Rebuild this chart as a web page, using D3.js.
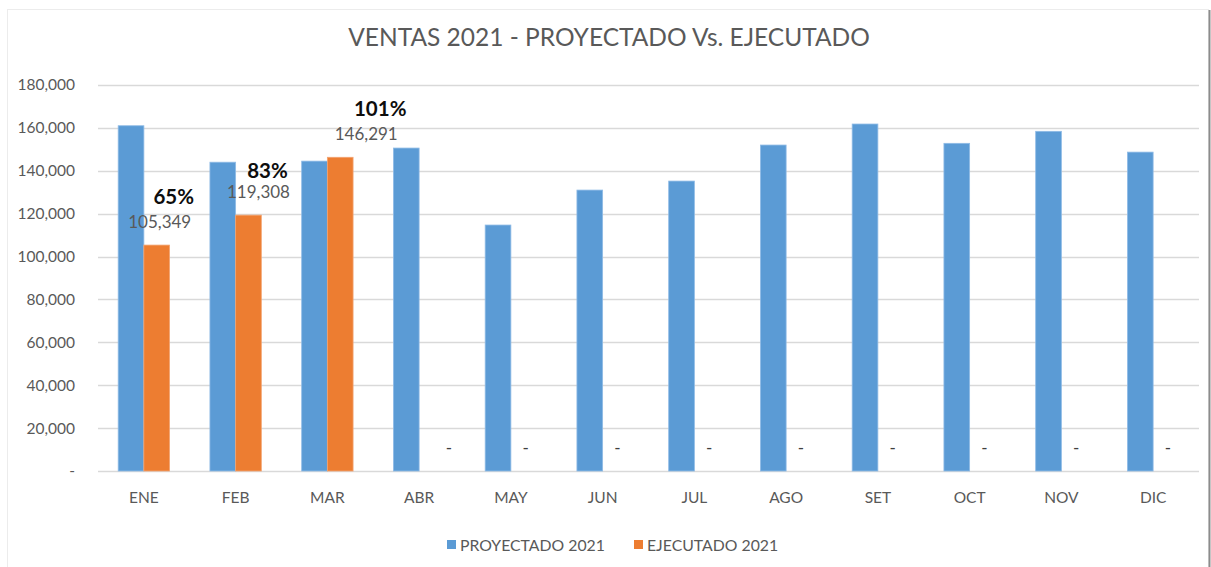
<!DOCTYPE html>
<html>
<head>
<meta charset="utf-8">
<script src="https://cdn.jsdelivr.net/npm/d3@7/dist/d3.min.js"></script>
<style>
  body { margin: 0; background: #fff; }
  svg { display: block; font-family: Lato, "Open Sans", sans-serif; }
</style>
</head>
<body>
<script>
// Data
var months = ["ENE","FEB","MAR","ABR","MAY","JUN","JUL","AGO","SET","OCT","NOV","DIC"];
var proyectado = [161000,144000,144500,150600,114700,131000,135200,152000,161800,152800,158400,148700];
var ejecutado = [105349,119308,146291,0,0,0,0,0,0,0,0,0];
var series = ["PROYECTADO 2021","EJECUTADO 2021"];
var yTicks = [0,20000,40000,60000,80000,100000,120000,140000,160000,180000];

// manual nudges of the data labels (as they were dragged in the sheet)
var labelShift = [3,10,26,15,0,0,0,0,0,0,0,0];
var pctDx = [14,9,14];
var pctDy = [-41,-37,-41];

var W = 1211, H = 567;
var margin = {top: 85, right: 12, bottom: 96, left: 98};
var width = W - margin.left - margin.right;
var height = H - margin.top - margin.bottom;
var colors = ["#5b9bd5","#ed7d31"];

var svg = d3.select("body").append("svg")
    .attr("width", W)
    .attr("height", H);

// chart frame
svg.append("rect")
    .attr("x", 7.5).attr("y", 9.5)
    .attr("width", 1201).attr("height", 570)
    .attr("fill", "#fff")
    .attr("stroke", "#ececec");
svg.append("line")
    .attr("x1", 1209.5).attr("x2", 1209.5)
    .attr("y1", 10).attr("y2", H)
    .attr("stroke", "#8c8c8c").attr("stroke-width", 2);

// title
svg.append("text")
    .attr("x", 609).attr("y", 46)
    .attr("text-anchor", "middle")
    .attr("fill", "#595959")
    .style("font-size", "24.5px")
    .text("VENTAS 2021 - PROYECTADO Vs. EJECUTADO");

var g = svg.append("g")
    .attr("transform", "translate(" + margin.left + "," + margin.top + ")");

var x = d3.scaleBand()
    .domain(months)
    .range([0, width])
    .paddingInner(0.44)
    .paddingOuter(0.22);

var xSub = d3.scaleBand()
    .domain([0, 1])
    .range([0, x.bandwidth()]);

var y = d3.scaleLinear()
    .domain([0, 180000])
    .range([height, 0]);

// gridlines
g.selectAll(".grid")
    .data(yTicks)
  .enter().append("line")
    .attr("class", "grid")
    .attr("x1", 0).attr("x2", width)
    .attr("y1", function(d) { return Math.round(y(d)) + 0.5; })
    .attr("y2", function(d) { return Math.round(y(d)) + 0.5; })
    .attr("stroke", "#d9d9d9")
    .attr("stroke-width", 1.3);

// y axis labels
var fmt = d3.format(",.0f");
var yAxis = g.append("g")
    .call(d3.axisLeft(y).tickValues(yTicks)
        .tickFormat(function(d) { return d === 0 ? "-" : fmt(d); })
        .tickSize(0).tickPadding(23));
yAxis.select(".domain").remove();
yAxis.selectAll("text")
    .attr("fill", "#595959")
    .style("font-size", "15.5px")
    .style("font-family", "Lato, sans-serif");

// x axis labels
var xAxis = g.append("g")
    .attr("transform", "translate(0," + height + ")")
    .call(d3.axisBottom(x).tickSize(0).tickPadding(21));
xAxis.select(".domain").remove();
xAxis.selectAll("text")
    .attr("fill", "#595959")
    .style("font-size", "15.5px")
    .style("font-family", "Lato, sans-serif");

// bars
var rows = months.map(function(m, i) {
    return {month: m, i: i, vals: [proyectado[i], ejecutado[i]]};
});

var groups = g.selectAll(".month")
    .data(rows)
  .enter().append("g")
    .attr("class", "month")
    .attr("transform", function(d) { return "translate(" + x(d.month) + ",0)"; });

groups.selectAll("rect")
    .data(function(d) { return d.vals.map(function(v, k) { return {k: k, v: v}; }); })
  .enter().append("rect")
    .filter(function(d) { return d.v > 0; })
    .attr("x", function(d) { return xSub(d.k); })
    .attr("y", function(d) { return y(d.v); })
    .attr("width", xSub.bandwidth())
    .attr("height", function(d) { return height - y(d.v); })
    .attr("fill", function(d) { return colors[d.k]; })
    .attr("stroke", function(d) { return d.k === 0 ? "#8fbbe6" : "#f3a472"; })
    .attr("stroke-width", 0.8);

// data labels on EJECUTADO
groups.each(function(d) {
    var sel = d3.select(this);
    var cx = xSub(1) + xSub.bandwidth() / 2 + labelShift[d.i];
    var v = ejecutado[d.i];
    if (v > 0) {
        var yy = y(v);
        sel.append("text")
            .attr("x", cx)
            .attr("y", yy - 17)
            .attr("text-anchor", "middle")
            .attr("fill", "#595959")
            .style("font-size", "17px")
            .text(fmt(v));
        sel.append("text")
            .attr("x", cx + pctDx[d.i])
            .attr("y", yy + pctDy[d.i])
            .attr("text-anchor", "middle")
            .attr("fill", "#0d0d0d")
            .style("font-size", "20.5px")
            .style("font-weight", "bold")
            .text(Math.round(v / proyectado[d.i] * 100) + "%");
    } else {
        sel.append("text")
            .attr("x", cx + 2)
            .attr("y", height - 17)
            .attr("text-anchor", "middle")
            .attr("fill", "#404040")
            .style("font-size", "17px")
            .text("-");
    }
});

// legend
var legend = svg.append("g")
    .attr("transform", "translate(447,545)");
var items = [{name: series[0], x: 0}, {name: series[1], x: 187}];
items.forEach(function(it, k) {
    legend.append("rect")
        .attr("x", it.x).attr("y", -5)
        .attr("width", 9).attr("height", 9)
        .attr("fill", colors[k]);
    legend.append("text")
        .attr("x", it.x + 13).attr("y", 5.5)
        .attr("fill", "#595959")
        .style("font-size", "15.8px")
        .text(it.name);
});
</script>
</body>
</html>
